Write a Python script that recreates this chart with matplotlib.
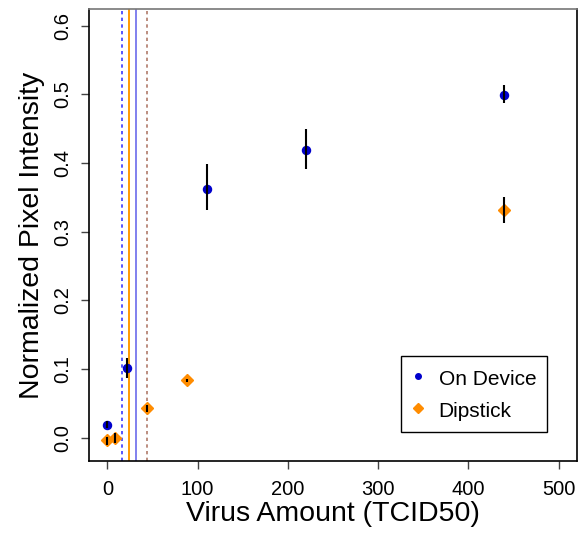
import matplotlib
matplotlib.use('Agg')
import matplotlib.pyplot as plt
from matplotlib.lines import Line2D

plt.rcParams['font.family'] = ['Liberation Sans', 'DejaVu Sans']

# on-device readings
dev_x = [0, 22, 110, 220, 440]
dev_y = [0.019, 0.102, 0.362, 0.419, 0.499]
dev_lo = [0.014, 0.087, 0.331, 0.392, 0.488]
dev_hi = [0.025, 0.116, 0.398, 0.449, 0.513]

# dipstick readings
dip_x = [0, 9, 44, 88, 440]
dip_y = [-0.004, 0.000, 0.043, 0.0835, 0.331]
dip_lo = [-0.010, -0.008, 0.038, 0.081, 0.313]
dip_hi = [0.0015, 0.0064, 0.047, 0.086, 0.350]

# detection limit lines
lod_dev_dotted = 15.9
lod_dip_solid = 23.7
lod_dev_solid = 31.4
lod_dip_dotted = 43.9

fig = plt.figure(figsize=(5.79, 5.33), dpi=100)
ax = fig.add_axes([0.1542, 0.135, 0.8418, 0.8476])

ax.axvline(lod_dev_dotted, color='#3a3aff', linestyle=(0, (2, 2)), linewidth=1.2, zorder=1)
ax.axvline(lod_dip_solid, color='#ff9900', linestyle='-', linewidth=1.4, zorder=1)
ax.axvline(lod_dev_solid, color='#8080ee', linestyle='-', linewidth=1.4, zorder=1)
ax.axvline(lod_dip_dotted, color='#b07a6a', linestyle=(0, (2, 2)), linewidth=1.2, zorder=1)

ax.plot(dev_x, dev_y, 'o', color='#0000cc', markersize=5.8, zorder=3)
ax.plot(dip_x, dip_y, 'D', color='#ff8c00', markersize=6.4, zorder=3)

ax.vlines(dev_x, dev_lo, dev_hi, color='black', linewidth=1.5, zorder=4)
ax.vlines(dip_x, dip_lo, dip_hi, color='black', linewidth=1.5, zorder=4)

ax.set_xlim(-20, 520)
ax.set_ylim(-0.034, 0.624)
ax.set_xticks([0, 100, 200, 300, 400, 500])
ax.set_yticks([0.0, 0.1, 0.2, 0.3, 0.4, 0.5, 0.6])
ax.set_yticklabels(['0.0', '0.1', '0.2', '0.3', '0.4', '0.5', '0.6'],
                   rotation=90, va='center')
ax.tick_params(axis='both', labelsize=14.5, length=6, width=1, color='#444444')
ax.tick_params(axis='x', pad=8)
ax.tick_params(axis='y', pad=6)

for s in ax.spines.values():
    s.set_linewidth(1.2)
ax.spines['top'].set_color('#777777')

ax.set_xlabel('Virus Amount (TCID50)', fontsize=20.5, labelpad=1)
ax.set_ylabel('Normalized Pixel Intensity', fontsize=20.5, labelpad=6)

handles = [
    Line2D([], [], marker='o', linestyle='none', color='#0000cc', markersize=4),
    Line2D([], [], marker='D', linestyle='none', color='#ff8c00', markersize=5),
]
leg = ax.legend(handles, ['On Device', 'Dipstick'], loc='lower right',
                bbox_to_anchor=(0.96, 0.041), fontsize=15, fancybox=False,
                framealpha=1, edgecolor='black', handlelength=0.6,
                handleheight=1.3, handletextpad=0.7, borderpad=0.5,
                labelspacing=0.45)
leg.get_frame().set_linewidth(1.0)

fig.savefig('out.png', dpi=100)
plt.close(fig)
